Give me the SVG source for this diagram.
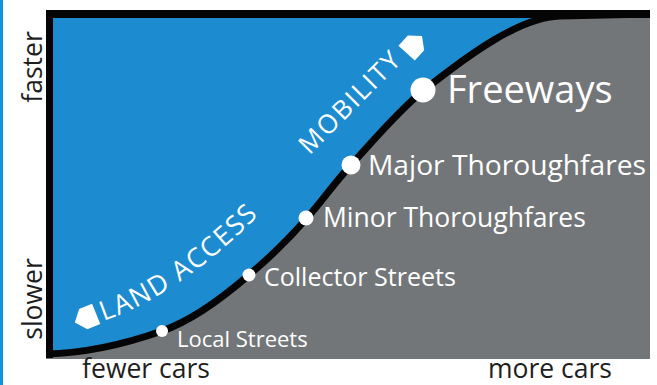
<svg xmlns="http://www.w3.org/2000/svg" width="657" height="385" viewBox="0 0 657 385">
<style>
.axis{font-family:"Open Sans","Liberation Sans",sans-serif;font-size:26.5px;fill:#1e1e1e}
.lbl{font-family:"Open Sans","Liberation Sans",sans-serif;fill:#ffffff}
.dot{fill:#ffffff}
.arrow{fill:#ffffff}
</style>
<defs>
<path id="curve" d="M46 354 C90 353 128 343 162 331 C191 321 220 300 249 275 C268 259 288 240 307 218 C322 201 336 181 351 165 C375 139 399 110 423 91 C468 55 520 17 560 16 L650 14"/>
<path id="landPath" d="M97 323 Q178 298 266 208"/>
<path id="mobPath" d="M308 157 L420 44"/>
</defs>
<rect x="0" y="0" width="657" height="385" fill="#ffffff"/>
<rect x="0" y="0" width="3" height="385" fill="#1590dc"/>
<g id="chart">
<rect x="46" y="10" width="604" height="349" fill="#727679"/>
<path d="M46 10 L46 354 C90 353 128 343 162 331 C191 321 220 300 249 275 C268 259 288 240 307 218 C322 201 336 181 351 165 C375 139 399 110 423 91 C468 55 520 17 560 16 L650 14 L650 10 Z" fill="#1c8bcf"/>
</g>
<g id="connectors">
<use href="#curve" fill="none" stroke="#050505" stroke-width="7"/>
<rect x="46" y="10" width="604" height="8" fill="#050505"/>
<rect x="46" y="10" width="7" height="348" fill="#050505"/>
</g>
<g id="local"><circle class="dot" cx="162" cy="331" r="6"/><text class="lbl" x="177" y="347" font-size="22">Local Streets</text></g>
<g id="collector"><circle class="dot" cx="249" cy="275" r="6.5"/><text class="lbl" x="264" y="286" font-size="25">Collector Streets</text></g>
<g id="minor"><circle class="dot" cx="306" cy="218" r="7.5"/><text class="lbl" x="323" y="227" font-size="26.5">Minor Thoroughfares</text></g>
<g id="major"><circle class="dot" cx="351" cy="165" r="9.5"/><text class="lbl" x="368" y="175" font-size="28.2">Major Thoroughfares</text></g>
<g id="freeways"><circle class="dot" cx="423" cy="90" r="12.5"/><text class="lbl" x="447" y="103" font-size="38">Freeways</text></g>
<g id="land-access">
<polygon class="arrow" points="-12,0 -3,-11 11,-11 11,11 -3,11" transform="translate(86,318) rotate(-22)"/>
<text class="lbl" font-size="27" letter-spacing="1.5"><textPath href="#landPath" startOffset="7">LAND ACCESS</textPath></text>
</g>
<g id="mobility">
<polygon class="arrow" points="12,0 3,-11 -11,-11 -11,11 3,11" transform="translate(414,45) rotate(-48)"/>
<text class="lbl" font-size="26" letter-spacing="2"><textPath href="#mobPath" startOffset="2">MOBILITY</textPath></text>
</g>
<g id="axes">
<text class="axis" text-anchor="middle" transform="translate(42,67) rotate(-90)">faster</text>
<text class="axis" text-anchor="middle" transform="translate(42,299) rotate(-90)">slower</text>
<text class="axis" text-anchor="middle" x="146" y="378">fewer cars</text>
<text class="axis" text-anchor="middle" x="550" y="378">more cars</text>
</g>
</svg>
